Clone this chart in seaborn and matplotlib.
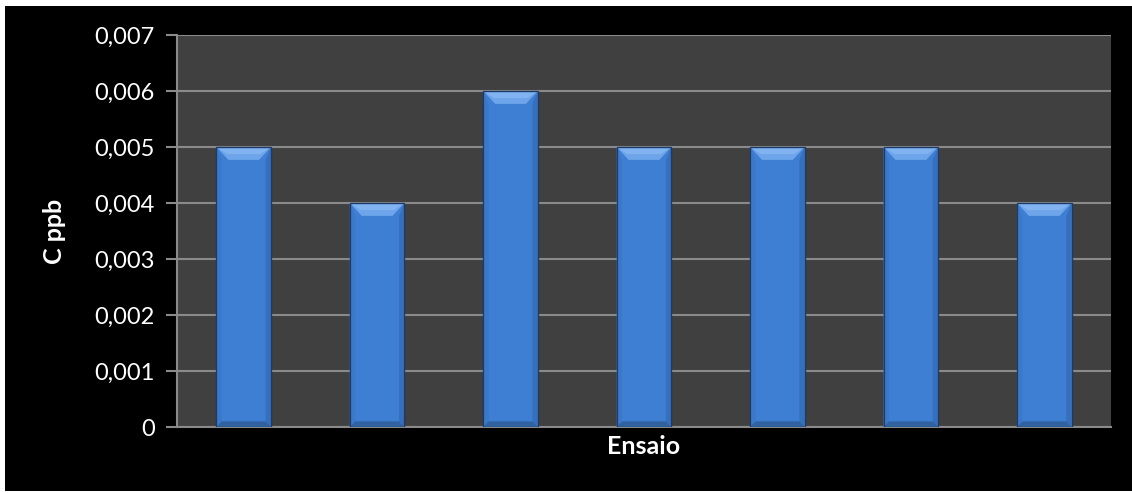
import matplotlib
matplotlib.use("Agg")
import matplotlib.pyplot as plt
from matplotlib.patches import Polygon, Rectangle
from matplotlib.ticker import FuncFormatter
import seaborn as sns
import pandas as pd

# Concentration per trial
ensaios = ["1", "2", "3", "4", "5", "6", "7"]
c_ppb = [0.005, 0.004, 0.006, 0.005, 0.005, 0.005, 0.004]
y_ticks = [0, 0.001, 0.002, 0.003, 0.004, 0.005, 0.006, 0.007]

df = pd.DataFrame({"Ensaio": ensaios, "C ppb": c_ppb})

sns.set_theme(style="dark")
plt.rcParams["font.family"] = ["Lato", "DejaVu Sans"]

fig = plt.figure(figsize=(11.32, 4.93), dpi=100, facecolor="white")
# black chart area inside a thin white frame
fig.patches.append(Rectangle((5 / 1132, 2 / 493), 1127 / 1132, 485 / 493,
                             transform=fig.transFigure, facecolor="black",
                             edgecolor="none", zorder=-10))
ax = fig.add_axes([177 / 1132, 1 - 427 / 493, 934 / 1132, 392 / 493])
ax.set_zorder(1)
ax.set_facecolor("#404040")

bar_color = "#3e7fd3"
sns.barplot(data=df, x="Ensaio", y="C ppb", color=bar_color, width=0.41,
            saturation=1, ax=ax, zorder=3, edgecolor="#1e3f6e", linewidth=0.8)

# bevelled look on each bar
for p in list(ax.patches):
    x0, w, h = p.get_x(), p.get_width(), p.get_height()
    x1 = x0 + w
    bx = w * 0.22      # top bevel inset
    sx = w * 0.10      # side strips
    by = 0.00023       # top bevel depth
    bb = 0.00010       # bottom strip depth
    faces = [
        ([(x0, h), (x0 + sx, h - by), (x0 + sx, bb), (x0, 0)], "#3b78c8"),
        ([(x1, h), (x1 - sx, h - by), (x1 - sx, bb), (x1, 0)], "#3670bd"),
        ([(x0, 0), (x0 + sx, bb), (x1 - sx, bb), (x1, 0)], "#30629f"),
        ([(x0, h), (x1, h), (x1 - bx, h - by), (x0 + bx, h - by)], "#6ea5ea"),
        ([(x0 + w * 0.04, h - by * 0.12), (x1 - w * 0.04, h - by * 0.12),
          (x1 - bx * 0.9, h - by * 0.55), (x0 + bx * 0.9, h - by * 0.55)], "#80b3f0"),
    ]
    for pts, col in faces:
        ax.add_patch(Polygon(pts, closed=True, facecolor=col, edgecolor="none",
                             zorder=4))
    ax.add_patch(Rectangle((x0, 0), w, h, facecolor="none", edgecolor="#1d3b66",
                           linewidth=0.9, zorder=5))

ax.set_ylim(0, 0.007)
ax.set_xlim(-0.5, len(ensaios) - 0.5)
ax.set_yticks(y_ticks)
ax.yaxis.set_major_formatter(
    FuncFormatter(lambda v, _: "0" if v == 0 else f"{v:.3f}".replace(".", ",")))
ax.grid(axis="y", color="#8a8a8a", linewidth=1.5, zorder=1)
ax.grid(axis="x", visible=False)
ax.set_axisbelow(True)

ax.tick_params(axis="y", colors="#8a8a8a", labelcolor="white", labelsize=17,
               length=8, width=1.5, direction="out", left=True, pad=8)
ax.tick_params(axis="x", bottom=False, labelbottom=False)

for side in ["top", "right"]:
    ax.spines[side].set_visible(False)
for side in ["left", "bottom"]:
    ax.spines[side].set_visible(True)
    ax.spines[side].set_color("#8a8a8a")
    ax.spines[side].set_linewidth(1.5)

ax.set_xlabel("Ensaio", color="white", fontsize=18, fontweight="bold", labelpad=6)
ax.set_ylabel("C ppb", color="white", fontsize=18, fontweight="bold", labelpad=20)

fig.savefig("out.png", dpi=100, facecolor="white")
